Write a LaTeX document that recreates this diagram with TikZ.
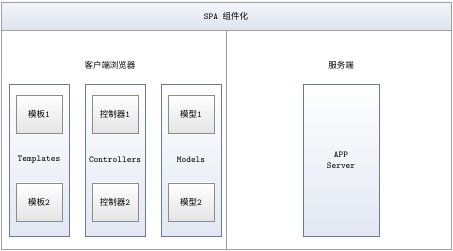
\documentclass[tikz,border=0pt]{standalone}
\usepackage{fontspec}
\newfontfamily\cjk{Noto Sans CJK SC}
\usepackage{tikz}
\definecolor{framegray}{RGB}{160, 160, 160}
\definecolor{colborder}{RGB}{105, 122, 155}
\definecolor{colfill}{RGB}{226, 231, 242}
\definecolor{itemborder}{RGB}{140, 140, 140}
\definecolor{itemfill}{RGB}{228, 228, 228}
\definecolor{barfill}{RGB}{222, 228, 238}
\tikzset{
	colbox/.style={draw=colborder, line width=0.7pt, top color=white, bottom color=colfill,
		minimum width=60pt, minimum height=152pt, inner sep=0pt},
	itembox/.style={draw=itemborder, line width=0.6pt, top color=white, bottom color=itemfill,
		minimum width=46pt, minimum height=38pt, inner sep=0pt, font=\ttfamily\fontsize{9}{10}\selectfont},
	lbl/.style={font=\ttfamily\fontsize{9}{10}\selectfont, inner sep=0pt},
	head/.style={font=\cjk\fontsize{8.5}{10}\selectfont, inner sep=0pt}
}
\begin{document}
\begin{tikzpicture}[x=1pt, y=-1pt]
	\useasboundingbox (0,0) rectangle (453,251);
	\def\ytop{114}
	\def\ybot{202}

	% --- Frame and title bar ---
	\shade[top color=white!60!barfill, bottom color=barfill] (1,2) rectangle (451,30);
	\draw[framegray, line width=0.6pt] (1,2) rectangle (451,249);
	\draw[framegray, line width=0.6pt] (1,30) -- (451,30);
	\draw[framegray, line width=0.6pt] (226,30) -- (226,249);
	\node[lbl] (title) at (226,16) {SPA {\cjk\fontsize{8.5}{10}\selectfont 组件化}};

	% --- Left: client browser ---
	\node[head] (client) at (110,65) {客户端浏览器};

	\node[colbox] (templates) at (39,160) {};
	\node[colbox] (controllers) at (115,160) {};
	\node[colbox] (models) at (191,160) {};

	\node[lbl] (templateslbl) at (templates.center) {Templates};
	\node[lbl] (controllerslbl) at (controllers.center) {Controllers};
	\node[lbl] (modelslbl) at (models.center) {Models};

	% Items
	\node[itembox] (tpl1) at (39,\ytop) {{\cjk\fontsize{8.5}{10}\selectfont 模板}1};
	\node[itembox] (tpl2) at (39,\ybot) {{\cjk\fontsize{8.5}{10}\selectfont 模板}2};
	\node[itembox] (ctl1) at (115,\ytop) {{\cjk\fontsize{8.5}{10}\selectfont 控制器}1};
	\node[itembox] (ctl2) at (115,\ybot) {{\cjk\fontsize{8.5}{10}\selectfont 控制器}2};
	\node[itembox] (mdl1) at (191,\ytop) {{\cjk\fontsize{8.5}{10}\selectfont 模型}1};
	\node[itembox] (mdl2) at (191,\ybot) {{\cjk\fontsize{8.5}{10}\selectfont 模型}2};

	% --- Right: server ---
	\node[colbox, minimum width=76pt, align=center, font=\ttfamily\fontsize{9}{11}\selectfont] (appserver) at (341,160) {APP\\Server};
	\node[head] (server) at (341,65) {服务端};
\end{tikzpicture}
\end{document}
